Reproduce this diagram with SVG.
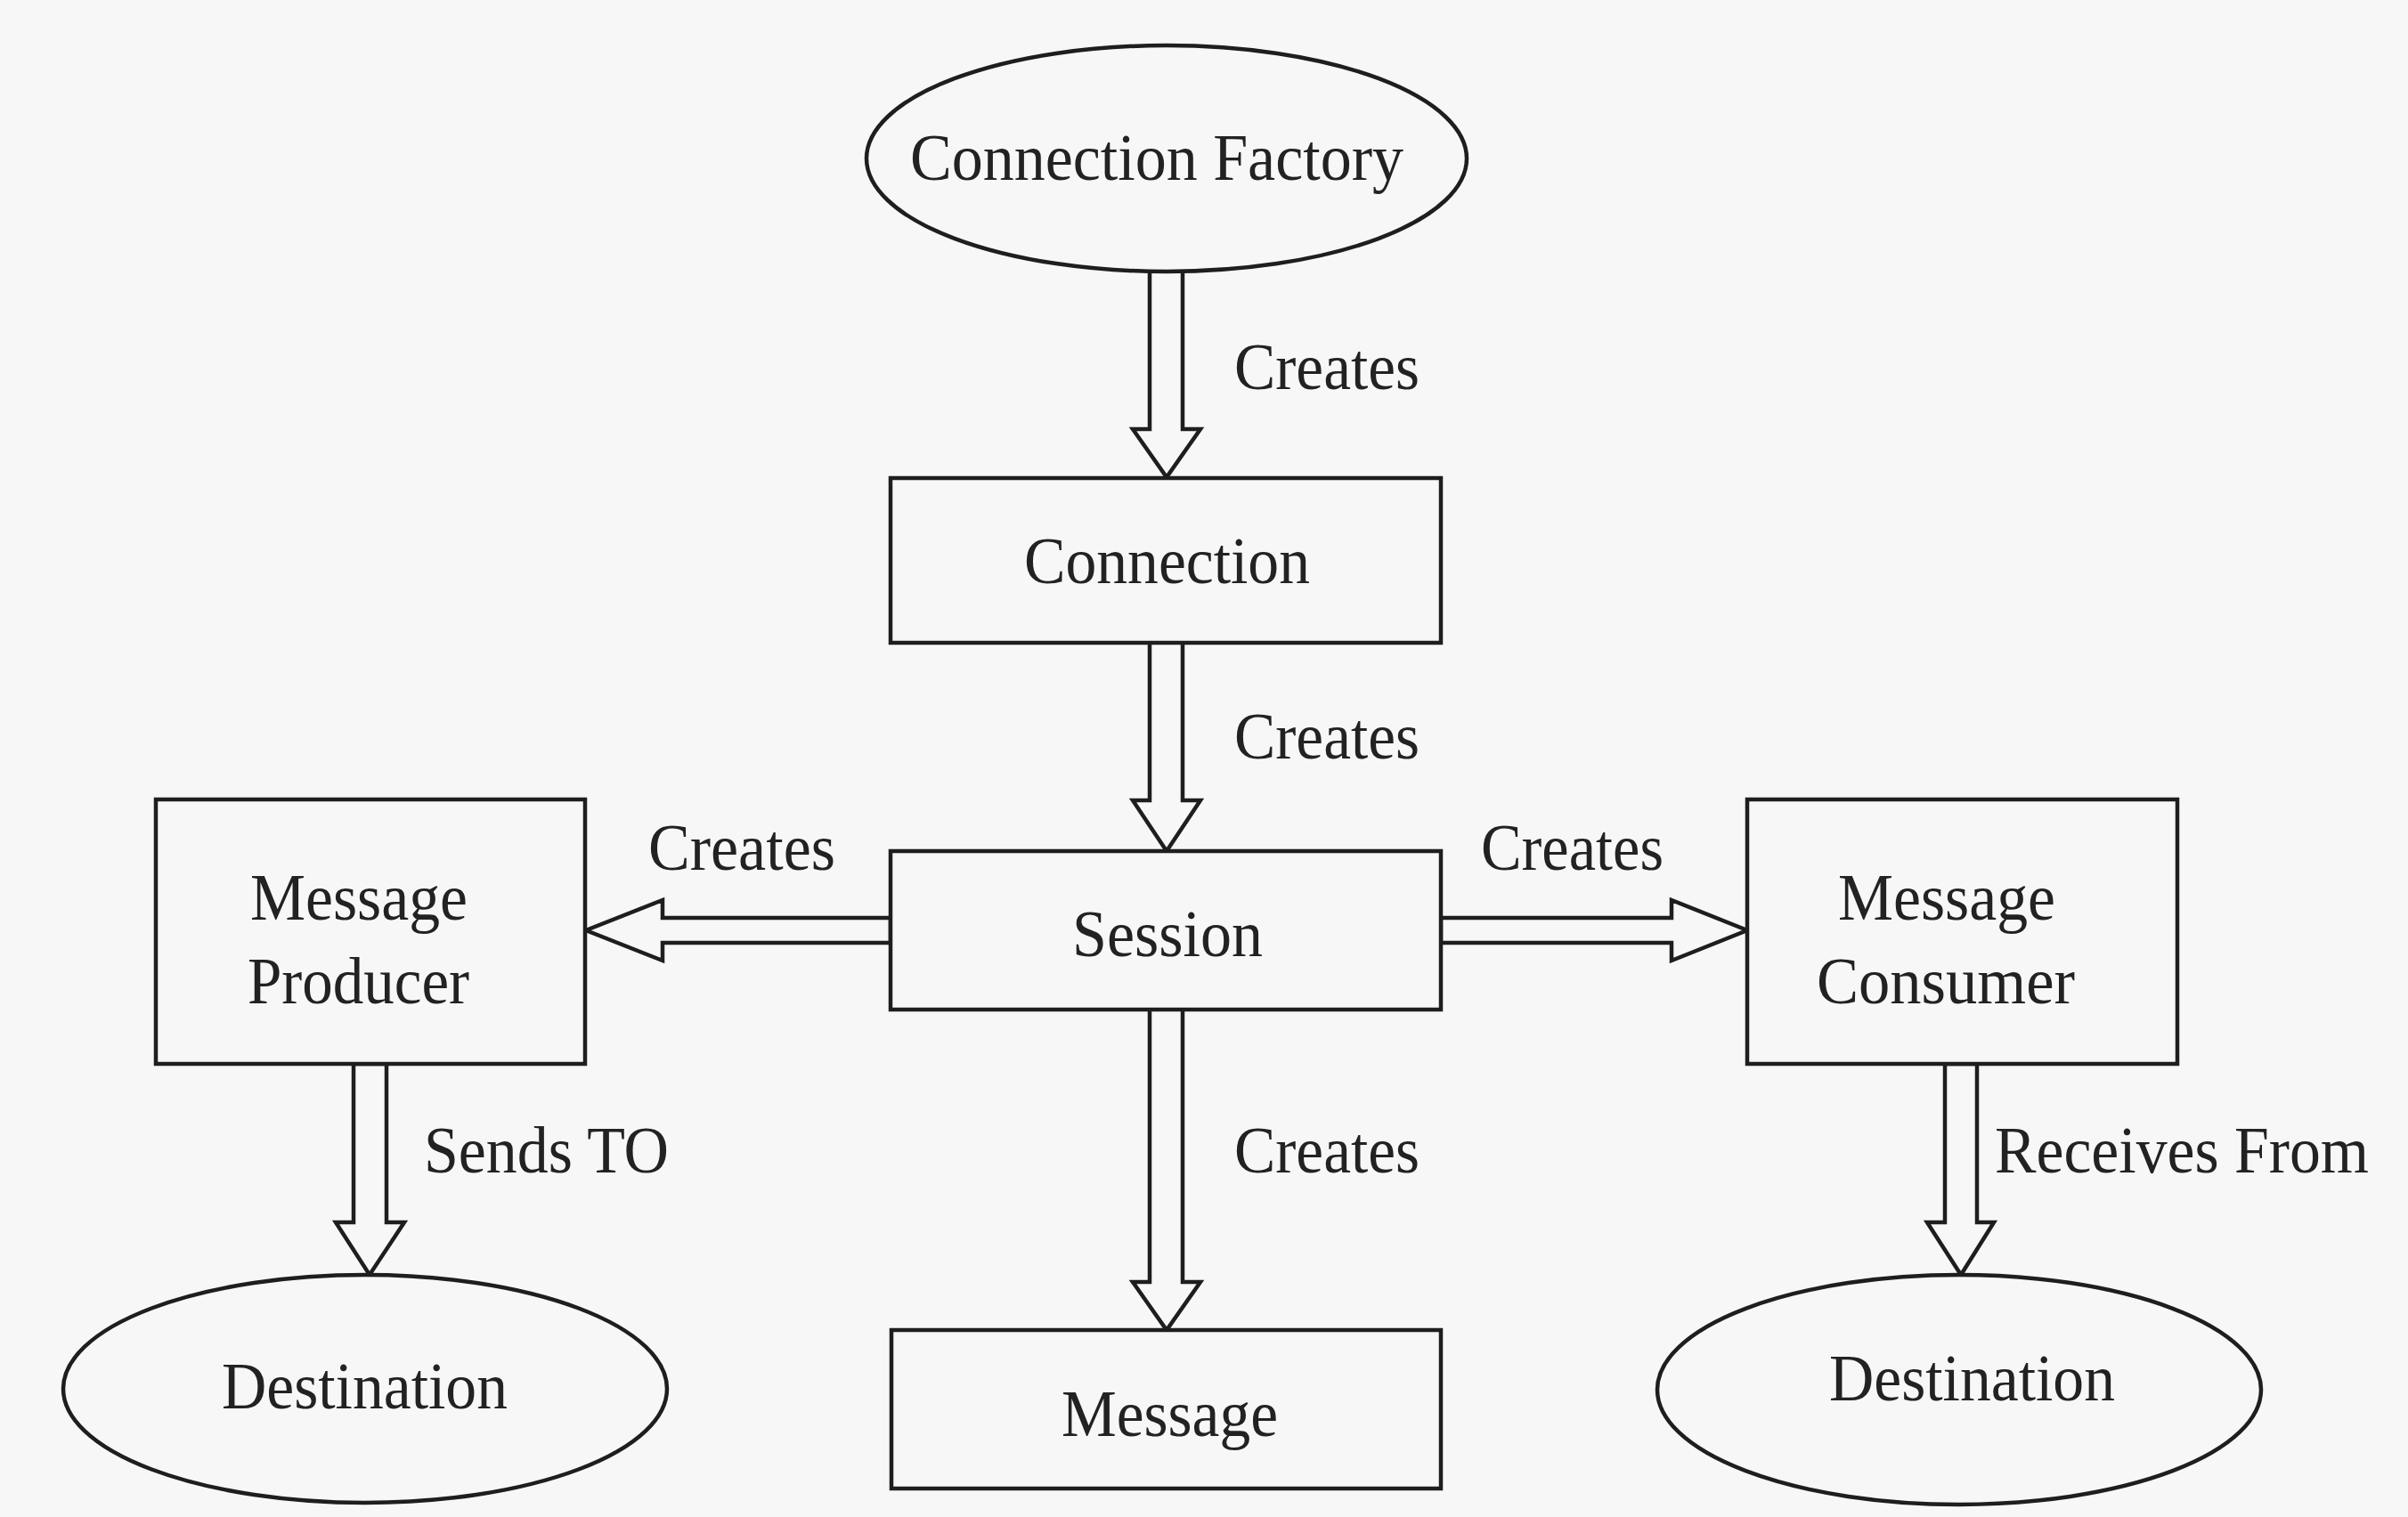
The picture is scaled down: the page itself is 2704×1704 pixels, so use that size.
<svg xmlns="http://www.w3.org/2000/svg" width="2704" height="1704" viewBox="0 0 2704 1704">
<style>
.bg{fill:#f7f7f7}
.shape{fill:#f7f7f7;stroke:#1e1e1e;stroke-width:4.5}
.arrow{fill:#f7f7f7;stroke:#1e1e1e;stroke-width:4.5;stroke-linejoin:miter}
.t{font-family:"Liberation Serif","Times New Roman",serif;font-size:75px;fill:#222}
</style>
<rect class="bg" x="0" y="0" width="2704" height="1704"/>
<g id="connectors">
<polygon class="arrow" points="1291,290 1291,482 1272,482 1310,536 1348,482 1328,482 1328,290"/>
<polygon class="arrow" points="1291,721 1291,899 1272,899 1310,956 1348,899 1328,899 1328,721"/>
<polygon class="arrow" points="1291,1133 1291,1440 1272,1440 1310,1494 1348,1440 1328,1440 1328,1133"/>
<polygon class="arrow" points="1000,1031 744,1031 744,1011 658,1045 744,1079 744,1059 1000,1059"/>
<polygon class="arrow" points="1618,1031 1877,1031 1877,1011 1962,1045 1877,1079 1877,1059 1618,1059"/>
<polygon class="arrow" points="397,1195 397,1373 377,1373 415,1432 454,1373 434,1373 434,1195"/>
<polygon class="arrow" points="2184,1195 2184,1373 2164,1373 2202,1432 2239,1373 2220,1373 2220,1195"/>
<text class="t" x="1386" y="437" textLength="208" lengthAdjust="spacingAndGlyphs">Creates</text>
<text class="t" x="1386" y="852" textLength="208" lengthAdjust="spacingAndGlyphs">Creates</text>
<text class="t" x="728" y="977" textLength="210" lengthAdjust="spacingAndGlyphs">Creates</text>
<text class="t" x="1663" y="977" textLength="205" lengthAdjust="spacingAndGlyphs">Creates</text>
<text class="t" x="1386" y="1317" textLength="208" lengthAdjust="spacingAndGlyphs">Creates</text>
<text class="t" x="476" y="1317" textLength="275" lengthAdjust="spacingAndGlyphs">Sends TO</text>
<text class="t" x="2240" y="1317" textLength="420" lengthAdjust="spacingAndGlyphs">Receives From</text>
</g>
<g id="connection-factory">
<ellipse class="shape" cx="1310" cy="178" rx="337" ry="127"/>
<text class="t" x="1022" y="202" textLength="554" lengthAdjust="spacingAndGlyphs">Connection Factory</text>
</g>
<g id="connection">
<rect class="shape" x="1000" y="537" width="618" height="185"/>
<text class="t" x="1150" y="655" textLength="321" lengthAdjust="spacingAndGlyphs">Connection</text>
</g>
<g id="session">
<rect class="shape" x="1000" y="956" width="618" height="178"/>
<text class="t" x="1204" y="1074" textLength="214" lengthAdjust="spacingAndGlyphs">Session</text>
</g>
<g id="message">
<rect class="shape" x="1001" y="1494" width="617" height="178"/>
<text class="t" x="1192" y="1613" textLength="243" lengthAdjust="spacingAndGlyphs">Message</text>
</g>
<g id="message-producer">
<rect class="shape" x="175" y="898" width="482" height="297"/>
<text class="t" x="281" y="1033" textLength="244" lengthAdjust="spacingAndGlyphs">Message</text>
<text class="t" x="278" y="1127" textLength="249" lengthAdjust="spacingAndGlyphs">Producer</text>
</g>
<g id="message-consumer">
<rect class="shape" x="1962" y="898" width="483" height="297"/>
<text class="t" x="2064" y="1033" textLength="244" lengthAdjust="spacingAndGlyphs">Message</text>
<text class="t" x="2040" y="1127" textLength="290" lengthAdjust="spacingAndGlyphs">Consumer</text>
</g>
<g id="destination-left">
<ellipse class="shape" cx="410" cy="1560" rx="339" ry="128"/>
<text class="t" x="249" y="1582" textLength="321" lengthAdjust="spacingAndGlyphs">Destination</text>
</g>
<g id="destination-right">
<ellipse class="shape" cx="2200" cy="1561" rx="339" ry="129"/>
<text class="t" x="2054" y="1573" textLength="321" lengthAdjust="spacingAndGlyphs">Destination</text>
</g>
</svg>
